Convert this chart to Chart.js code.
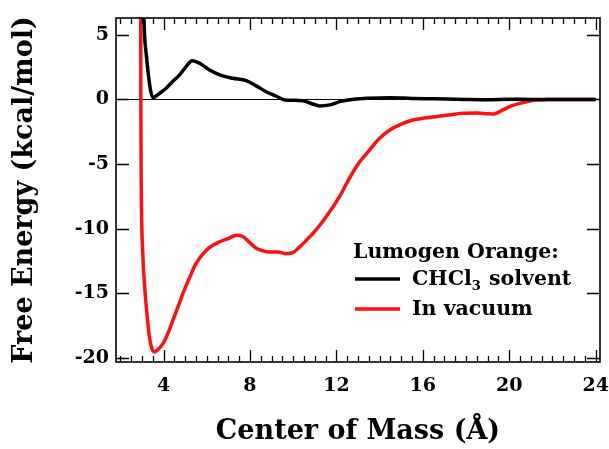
<!DOCTYPE html>
<html>
<head>
<meta charset="utf-8">
<script src="https://cdn.jsdelivr.net/npm/chart.js@4/dist/chart.umd.min.js"></script>
<style>
  html, body { margin: 0; padding: 0; background: #fff; }
  canvas { display: block; }
</style>
</head>
<body>
<canvas id="c" width="609" height="449"></canvas>
<script>
// Free-energy profiles along the centre-of-mass separation
const solventX = [3.08, 3.12, 3.2, 3.3, 3.4, 3.5, 3.6, 3.8, 4.12, 4.4, 4.74, 5.0, 5.33, 5.67, 6.13, 6.6, 7.2, 7.83, 8.29, 8.75, 9.2, 9.6, 10.0, 10.45, 10.9, 11.22, 11.7, 12.2, 12.8, 13.5, 14.5, 15.5, 16.5, 18.0, 19.0, 20.0, 21.0, 22.5, 24.0];
const solventY = [7.0, 5.0, 3.5, 1.9, 0.7, 0.15, 0.2, 0.45, 0.87, 1.35, 1.9, 2.45, 3.0, 2.8, 2.28, 1.9, 1.64, 1.46, 1.05, 0.6, 0.27, -0.04, -0.06, -0.09, -0.35, -0.5, -0.42, -0.15, 0.02, 0.1, 0.14, 0.08, 0.05, 0.0, -0.02, 0.02, 0.0, 0.0, 0.0];

const vacuumX = [2.945, 2.95, 2.97, 3.04, 3.12, 3.2, 3.28, 3.35, 3.45, 3.58, 3.7, 3.97, 4.2, 4.43, 4.7, 4.9, 5.2, 5.5, 5.98, 6.6, 7.0, 7.37, 7.67, 7.95, 8.29, 8.6, 8.9, 9.3, 9.68, 9.98, 10.3, 10.6, 11.0, 11.53, 12.15, 12.6, 13.0, 13.54, 14.0, 14.6, 15.0, 15.54, 16.0, 16.6, 17.2, 17.86, 18.5, 19.0, 19.3, 19.7, 20.1, 20.48, 21.0, 21.25, 21.7, 22.5, 24.0];
const vacuumY = [7.0, 0.0, -6.7, -11.9, -14.3, -16.0, -17.4, -18.4, -19.2, -19.52, -19.4, -18.9, -18.1, -17.1, -15.9, -15.0, -13.8, -12.7, -11.65, -11.0, -10.75, -10.5, -10.6, -11.0, -11.5, -11.7, -11.8, -11.8, -11.92, -11.85, -11.4, -10.9, -10.2, -9.07, -7.5, -6.1, -5.0, -3.9, -3.0, -2.23, -1.9, -1.59, -1.45, -1.33, -1.2, -1.07, -1.05, -1.1, -1.12, -0.81, -0.5, -0.3, -0.1, -0.04, -0.01, 0.0, 0.0];

const xTickValues = [4, 8, 12, 16, 20, 24];
const yTickValues = [-20, -15, -10, -5, 0, 5];
const seriesLabels = ['CHCl\u2083 solvent', 'In vacuum'];
const legendTitle = 'Lumogen Orange:';

const FONT = '"DejaVu Serif", "Liberation Serif", serif';

function pairs(xs, ys) {
  return xs.map((x, i) => ({ x: x, y: ys[i] }));
}

// Text with subscript digits (₀–₉ drawn as smaller, lowered numerals)
function drawRich(ctx, text, x, y, size) {
  let cx = x;
  for (const ch of text) {
    const code = ch.charCodeAt(0);
    if (code >= 0x2080 && code <= 0x2089) {
      const d = String(code - 0x2080);
      ctx.font = `bold ${Math.round(size * 0.62)}px ${FONT}`;
      ctx.fillText(d, cx, y + size * 0.25);
      cx += ctx.measureText(d).width + 1;
    } else {
      ctx.font = `bold ${size}px ${FONT}`;
      ctx.fillText(ch, cx, y);
      cx += ctx.measureText(ch).width;
    }
  }
}

// Boxed frame with inward tick marks on all four sides
const frameTicks = {
  id: 'frameTicks',
  afterDatasetsDraw(chart) {
    const { ctx, chartArea: a, scales: { x, y } } = chart;
    ctx.save();
    ctx.strokeStyle = '#000';
    ctx.lineWidth = 1.6;
    ctx.strokeRect(a.left, a.top, a.right - a.left, a.bottom - a.top);
    ctx.lineWidth = 1.3;
    ctx.beginPath();
    for (let i = 0; i <= 44; i++) {
      const v = 2 + i * 0.5;
      const px = Math.round(x.getPixelForValue(v)) + 0.5;
      const len = (i % 8 === 4) ? 12 : 6;
      ctx.moveTo(px, a.bottom); ctx.lineTo(px, a.bottom - len);
      ctx.moveTo(px, a.top); ctx.lineTo(px, a.top + len);
    }
    for (const v of yTickValues) {
      const py = Math.round(y.getPixelForValue(v)) + 0.5;
      ctx.moveTo(a.left, py); ctx.lineTo(a.left + 13, py);
      ctx.moveTo(a.right, py); ctx.lineTo(a.right - 13, py);
    }
    ctx.stroke();
    ctx.restore();
  }
};

// Legend block inside the plot area
const seriesLegend = {
  id: 'seriesLegend',
  afterDraw(chart, args, opts) {
    const { ctx, chartArea: a } = chart;
    const x0 = a.left + opts.left;
    const y0 = a.top + opts.top;
    ctx.save();
    ctx.fillStyle = '#000';
    ctx.textBaseline = 'alphabetic';
    ctx.textAlign = 'left';
    ctx.font = `bold ${opts.size}px ${FONT}`;
    ctx.fillText(opts.title, x0, y0);
    chart.data.datasets.forEach((ds, i) => {
      const by = y0 + opts.rows[i];
      ctx.strokeStyle = ds.borderColor;
      ctx.lineWidth = ds.borderWidth;
      ctx.beginPath();
      ctx.moveTo(x0 + 2, by - opts.lineRaise);
      ctx.lineTo(x0 + 2 + opts.lineLen, by - opts.lineRaise);
      ctx.stroke();
      ctx.fillStyle = '#000';
      drawRich(ctx, ds.label, x0 + opts.textIndent, by, opts.size);
    });
    ctx.restore();
  }
};

// Keep the plot box fixed regardless of how far edge labels overhang
function fixHorizontal(s) {
  s.height = 87;
  s.paddingLeft = 0;
  s.paddingRight = 0;
}
function fixVertical(s) {
  s.width = 116;
  s.paddingTop = 0;
  s.paddingBottom = 0;
}

new Chart(document.getElementById('c'), {
  type: 'scatter',
  data: {
    datasets: [
      {
        label: seriesLabels[0],
        data: pairs(solventX, solventY),
        showLine: true,
        borderColor: '#000000',
        borderWidth: 3.5,
        pointRadius: 0,
        cubicInterpolationMode: 'monotone',
        clip: 0
      },
      {
        label: seriesLabels[1],
        data: pairs(vacuumX, vacuumY),
        showLine: true,
        borderColor: '#ff1010',
        borderWidth: 3.5,
        pointRadius: 0,
        cubicInterpolationMode: 'monotone',
        clip: 0
      }
    ]
  },
  options: {
    responsive: false,
    animation: false,
    devicePixelRatio: 1,
    layout: { padding: { top: 18, right: 9, left: 0, bottom: 0 } },
    plugins: {
      legend: { display: false },
      tooltip: { enabled: false },
      seriesLegend: {
        title: legendTitle,
        left: 237, top: 240,
        rows: [27, 57],
        lineLen: 45, lineRaise: 6, textIndent: 59,
        size: 20.5
      }
    },
    scales: {
      x: {
        type: 'linear',
        min: 1.8, max: 24.2,
        afterBuildTicks: s => { s.ticks = xTickValues.map(v => ({ value: v })); },
        afterFit: fixHorizontal,
        grid: { display: false, drawTicks: false },
        border: { display: false },
        ticks: {
          color: '#000', padding: 13, maxRotation: 0, autoSkip: false,
          font: { family: FONT, size: 19, weight: 'bold' },
          callback: v => String(v)
        },
        title: {
          display: true, text: 'Center of Mass (\u00C5)', color: '#000',
          font: { family: FONT, size: 27, weight: 'bold', lineHeight: 1.2 },
          padding: { top: 0, bottom: 1 }
        }
      },
      y: {
        type: 'linear',
        min: -20.3, max: 6.3,
        afterBuildTicks: s => { s.ticks = yTickValues.map(v => ({ value: v })); },
        afterFit: fixVertical,
        grid: {
          drawTicks: false,
          lineWidth: 1,
          color: c => (c.tick && c.tick.value === 0) ? '#000' : 'rgba(0,0,0,0)'
        },
        border: { display: false },
        ticks: {
          color: '#000', padding: 7, autoSkip: false,
          font: { family: FONT, size: 19, weight: 'bold' },
          callback: v => String(v)
        },
        title: {
          display: true, text: 'Free Energy (kcal/mol)', color: '#000',
          font: { family: FONT, size: 27, weight: 'bold', lineHeight: 1.2 },
          padding: { top: 9, bottom: 0 }
        }
      }
    }
  },
  plugins: [frameTicks, seriesLegend]
});
</script>
</body>
</html>
